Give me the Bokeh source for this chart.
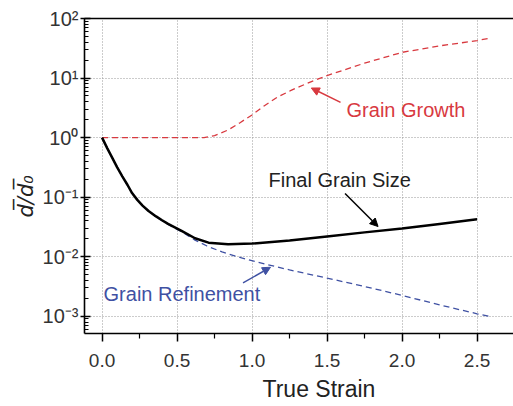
import math
from bokeh.plotting import figure
from bokeh.models import (Range1d, FixedTicker, CustomJSTickFormatter, NumeralTickFormatter,
                          LinearAxis, Label, Arrow, NormalHead, Title)
from bokeh.embed import file_html
from bokeh.resources import INLINE

# ---- data ----
growth_x = [0.0, 0.3, 0.6, 0.68, 0.75, 0.84, 0.92, 1.0, 1.08, 1.17, 1.26, 1.3, 1.4, 1.5, 1.75, 2.0, 2.25, 2.5, 2.59]
growth_y = [1.0, 1.0, 1.0, 1.0, 1.08, 1.34, 1.78, 2.4, 3.4, 4.8, 6.2, 6.9, 8.8, 11.0, 17.8, 27.0, 34.7, 42.5, 47.0]

final_x = [0.0, 0.035, 0.07, 0.1, 0.135, 0.17, 0.2, 0.235, 0.27, 0.31, 0.36, 0.4, 0.44, 0.53, 0.62, 0.71,
           0.84, 1.0, 1.25, 1.5, 1.75, 2.0, 2.25, 2.5]
final_y = [1.0, 0.66, 0.447, 0.32, 0.224, 0.16, 0.117, 0.09, 0.072, 0.0585, 0.0475, 0.041, 0.0355,
           0.0272, 0.0204, 0.0172, 0.0162, 0.0166, 0.0187, 0.0219, 0.0256, 0.0297, 0.0355, 0.0425]

refine_x = [0.0, 0.07, 0.135, 0.2, 0.27, 0.36, 0.44, 0.53, 0.62, 0.7, 0.8, 0.93, 1.1, 1.25, 1.5, 1.75,
            2.0, 2.25, 2.5, 2.58]
refine_y = [1.0, 0.447, 0.224, 0.117, 0.0708, 0.0468, 0.0347, 0.0263, 0.019, 0.0151, 0.012, 0.00955,
            0.0074, 0.006, 0.00437, 0.00316, 0.00224, 0.00155, 0.0011, 0.001]

x_ticks = [0.0, 0.5, 1.0, 1.5, 2.0, 2.5]
x_minor = [0.25, 0.75, 1.25, 1.75, 2.25, 2.75]
y_exponents = [-3, -2, -1, 0, 1, 2]

RED = "#d8393f"
BLUE = "#3f51a3"
FONT = "Liberation Sans"

p = figure(width=513, height=406, y_axis_type="log", output_backend="svg", toolbar_location=None,
           x_range=Range1d(-0.117, 2.743), y_range=Range1d(10 ** -3.29, 100),
           min_border_left=84, min_border_right=0, min_border_top=18, min_border_bottom=71)
p.outline_line_color = None
p.background_fill_color = "white"
p.border_fill_color = "white"

# axes
xa = p.xaxis[0]
xa.ticker = FixedTicker(ticks=x_ticks, minor_ticks=x_minor)
xa.formatter = NumeralTickFormatter(format="0.0")
ya = p.yaxis[0]
ya.ticker = FixedTicker(ticks=[10.0 ** e for e in y_exponents],
                        minor_ticks=[m * 10.0 ** e for e in range(-4, 2) for m in range(2, 10)])
ya.formatter = CustomJSTickFormatter(code="""
const sup = {'-':'\u207b','0':'\u2070','1':'\u00b9','2':'\u00b2','3':'\u00b3','4':'\u2074','5':'\u2075','6':'\u2076','7':'\u2077','8':'\u2078','9':'\u2079'};
const e = Math.round(Math.log10(tick)).toString();
return '10' + e.split('').map(c => sup[c]).join('');
""")
for ax in (xa, ya):
    ax.axis_line_color = "black"
    ax.axis_line_width = 1.6
    ax.major_tick_line_color = "black"
    ax.major_tick_line_width = 1.5
    ax.minor_tick_line_color = "black"
    ax.minor_tick_line_width = 1.2
    ax.major_label_text_font = FONT
    ax.major_label_text_color = "#333333"
xa.major_label_text_font_size = "19px"
ya.major_label_text_font_size = "20px"
xa.major_tick_in = 0
xa.major_tick_out = 8
xa.minor_tick_in = 0
xa.minor_tick_out = 5
xa.major_label_standoff = 12
xa.major_label_text_line_height = 0.9
ya.major_tick_in = 6
ya.major_tick_out = 4
ya.minor_tick_in = 4
ya.minor_tick_out = 0
ya.major_label_standoff = 2

top = LinearAxis(ticker=FixedTicker(ticks=[]), axis_line_color="black", axis_line_width=1.6,
                 major_label_text_font_size="0px", major_tick_line_color=None, minor_tick_line_color=None)
p.add_layout(top, "above")

for g in (p.xgrid[0], p.ygrid[0]):
    g.grid_line_color = "#999999"
    g.grid_line_dash = "1 2"
    g.grid_line_width = 1

# curves
p.line(refine_x, refine_y, line_color=BLUE, line_width=1.3, line_dash="6 4")
p.line(growth_x, growth_y, line_color=RED, line_width=1.3, line_dash="6 4")
p.line(final_x, final_y, line_color="black", line_width=2.5)

# arrows
p.add_layout(Arrow(end=NormalHead(size=8, fill_color=RED, line_color=RED),
                   x_start=1.59, y_start=3.9, x_end=1.395, y_end=6.8, line_color=RED, line_width=1.5))
p.add_layout(Arrow(end=NormalHead(size=8, fill_color="black", line_color="black"),
                   x_start=1.62, y_start=0.115, x_end=1.84, y_end=0.0321, line_color="black", line_width=1.5))
p.add_layout(Arrow(end=NormalHead(size=8, fill_color=BLUE, line_color=BLUE),
                   x_start=0.94, y_start=0.00363, x_end=1.123, y_end=0.00665, line_color=BLUE, line_width=1.5))

# annotations
p.add_layout(Label(x=1.63, y=10 ** ((137.7 - 110) / 60), text="Grain Growth", text_color=RED,
                   text_font=FONT, text_font_size="20px", text_baseline="middle", text_align="left"))
p.add_layout(Label(x=1.11, y=10 ** ((137.7 - 180) / 60), text="Final Grain Size", text_color="#222222",
                   text_font=FONT, text_font_size="20px", text_baseline="middle", text_align="left"))
p.add_layout(Label(x=0.01, y=10 ** ((137.7 - 295) / 60), text="Grain Refinement", text_color=BLUE,
                   text_font=FONT, text_font_size="20px", text_baseline="middle", text_align="left"))

# axis titles
p.add_layout(Title(text="True Strain", align="left", offset=178, standoff=9, text_color="#222222",
                   text_font=FONT, text_font_size="23px", text_font_style="normal",
                   text_line_height=0.9), "below")
p.add_layout(Title(text="d\u0305/d\u0305\u2080", align="left", offset=116, standoff=4,
                   text_color="#222222", text_font="DejaVu Sans", text_font_style="italic",
                   text_font_size="21px"), "left")

open("out.html", "w").write(file_html(p, INLINE))
